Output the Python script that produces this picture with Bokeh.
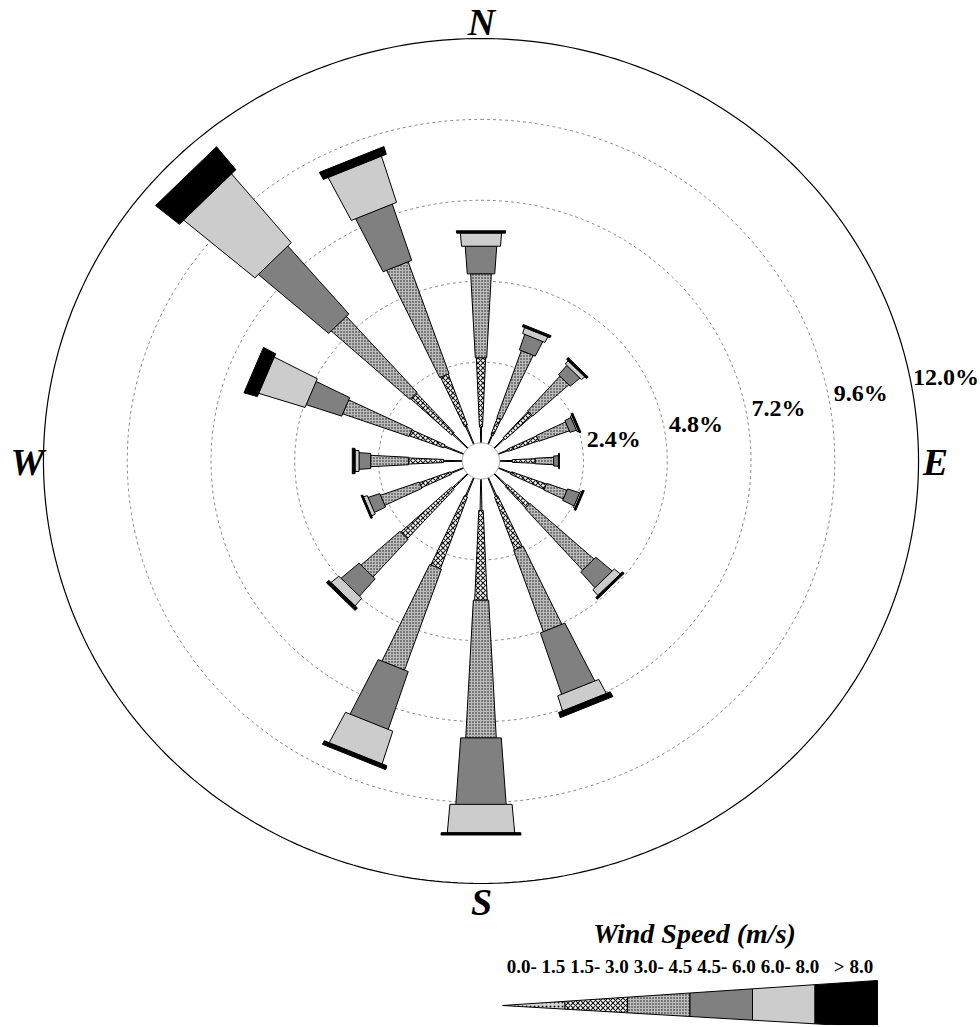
import numpy as np
from bokeh.plotting import figure
from bokeh.models import Range1d, ColumnDataSource
from bokeh.embed import file_html
from bokeh.resources import INLINE
from bokeh.core.properties import value

# ---------------- data ----------------
directions = ["N", "NNE", "NE", "ENE", "E", "ESE", "SE", "SSE",
              "S", "SSW", "SW", "WSW", "W", "WNW", "NW", "NNW"]
dir_angles = [0.0, 22.5, 45.0, 67.5, 90.0, 112.5, 135.0, 157.5,
              180.0, 202.5, 225.0, 247.5, 270.0, 292.5, 315.0, 337.5]
speed_classes = ["0.0- 1.5", "1.5- 3.0", "3.0- 4.5", "4.5- 6.0", "6.0- 8.0", "> 8.0"]
# frequency (%) of each speed class per direction
freq_0_15 = [0.47, 0.30, 0.40, 0.30, 0.36, 0.40, 0.50, 0.60, 0.93, 0.60, 0.60, 0.40, 0.54, 0.60, 0.60, 0.60]
freq_15_30 = [2.06, 0.53, 1.06, 0.92, 0.66, 1.06, 0.85, 1.67, 2.67, 2.27, 1.99, 0.94, 1.00, 1.05, 1.60, 1.61]
freq_30_45 = [2.50, 2.11, 1.39, 0.93, 0.53, 0.62, 2.47, 2.57, 4.10, 3.18, 1.50, 1.18, 1.09, 2.02, 3.04, 3.53]
freq_45_60 = [0.83, 0.49, 0.37, 0.20, 0.14, 0.37, 0.63, 1.93, 1.99, 1.82, 0.69, 0.36, 0.34, 1.08, 2.68, 1.77]
freq_60_80 = [0.40, 0.19, 0.13, 0.05, 0.01, 0.05, 0.23, 0.48, 0.86, 1.03, 0.30, 0.12, 0.12, 1.40, 2.68, 1.45]
freq_80_up = [0.07, 0.07, 0.07, 0.05, 0.02, 0.05, 0.07, 0.16, 0.07, 0.12, 0.10, 0.05, 0.08, 0.40, 0.88, 0.24]
ring_ticks = [2.4, 4.8, 7.2, 9.6, 12.0]
cardinal_labels = ["N", "E", "S", "W"]

class_freqs = [freq_0_15, freq_15_30, freq_30_45, freq_45_60, freq_60_80, freq_80_up]

# ---------------- styling ----------------
half_width_deg = [1.0, 2.5, 3.05, 4.05, 5.0, 5.9]
fills = ["#d8d8d8", "#ffffff", "#bcbcbc", "#808080", "#cccccc", "#000000"]
hatches = ["dot", "diagonal_cross", "dot", " ", " ", " "]
hatch_scales = [4, 5, 3, 1, 1, 1]
hatch_weights = [1, 1.2, 1, 1, 1, 1]
r0 = 0.537  # calm circle radius (data units)

CX, CY = 480.5, 460.5
SX, SY = 34.9, 33.7
W, H = 978, 1025
BASE_SHIFT = 0.3  # em; compensates renderer baseline placement


def px2x(X):
    return (X - CX) / SX


def px2y(Y):
    return (CY - Y) / SY


def base_y(Y, fs):
    return px2y(Y - BASE_SHIFT * fs)


p = figure(width=W, height=H, output_backend="svg", toolbar_location=None,
           x_range=Range1d(px2x(0), px2x(W)), y_range=Range1d(px2y(H), px2y(0)),
           x_axis_type=None, y_axis_type=None, min_border=0)
p.outline_line_color = None
p.grid.visible = False
p.background_fill_color = "white"

t = np.linspace(0, 2 * np.pi, 361)

# dashed rings
for pct in ring_ticks[:-1]:
    R = r0 + pct
    p.line(R * np.sin(t), R * np.cos(t), line_color="#8c8c8c", line_dash="3 3", line_width=1)

# petals
cum = np.zeros(len(directions))
for ci, fr in enumerate(class_freqs):
    xs, ys = [], []
    hw = np.radians(half_width_deg[ci])
    for di, ang in enumerate(dir_angles):
        th = np.radians(ang)
        rin = r0 + cum[di]
        rout = r0 + cum[di] + fr[di]
        angs = [th - hw, th - hw, th + hw, th + hw]
        rads = [rin, rout, rout, rin]
        xs.append([r * np.sin(a) for r, a in zip(rads, angs)])
        ys.append([r * np.cos(a) for r, a in zip(rads, angs)])
    cum = cum + np.array(fr)
    src = ColumnDataSource(dict(xs=xs, ys=ys))
    kw = {}
    if hatches[ci].strip():
        kw = dict(hatch_pattern=hatches[ci], hatch_color="black", hatch_scale=hatch_scales[ci],
                  hatch_weight=hatch_weights[ci], hatch_alpha=0.9)
    p.patches("xs", "ys", source=src, fill_color=fills[ci], line_color="black", line_width=1, **kw)

# calm circle
p.patch(r0 * np.sin(t), r0 * np.cos(t), fill_color="white", line_color="#9a9a9a", line_width=1)

# outer circle
Rmax = r0 + ring_ticks[-1]
p.line(Rmax * np.sin(t), Rmax * np.cos(t), line_color="black", line_width=1.2)

# ring labels
FS_PCT = 24
lab_ang = np.radians(10.6)
lx, ly, lt = [], [], []
for pct in ring_ticks:
    R = (r0 + pct) * SX
    lx.append(px2x(CX + R * np.cos(lab_ang) + (5 if pct < 12 else 2)))
    ly.append(base_y(CY - R * np.sin(lab_ang) + 4, FS_PCT))
    lt.append(f"{pct:.1f}%")
p.text(lx, ly, text=lt, text_font=value("Liberation Serif"), text_font_style="bold",
       text_font_size=value(f"{FS_PCT}px"), text_baseline="alphabetic", text_align="left", text_color="black")

# cardinal labels
FS_CARD = 38
card_x = [px2x(481), px2x(935), px2x(481), px2x(27)]
card_y = [base_y(33, FS_CARD), base_y(473, FS_CARD), base_y(913, FS_CARD), base_y(473, FS_CARD)]
p.text(card_x, card_y, text=cardinal_labels, text_font=value("Liberation Serif"),
       text_font_style="bold italic", text_font_size=value(f"{FS_CARD}px"), text_align="center",
       text_baseline="alphabetic", text_color="black")

# legend
FS_TITLE = 28
p.text([px2x(694)], [base_y(941, FS_TITLE)], text=["Wind Speed (m/s)"], text_font=value("Liberation Serif"),
       text_font_style="bold italic", text_font_size=value(f"{FS_TITLE}px"), text_align="center",
       text_baseline="alphabetic", text_color="black")
x0, x1 = 502.0, 877.0
tipY = 1005.0
def top(X):
    return tipY - (X - x0) * 25.0 / 375.0
def bot(X):
    return tipY + (X - x0) * 22.0 / 375.0
seg = (x1 - x0) / len(speed_classes)
for ci in range(len(speed_classes)):
    a = x0 + ci * seg
    b = a + seg
    kw = {}
    if hatches[ci].strip():
        kw = dict(hatch_pattern=hatches[ci], hatch_color="black", hatch_scale=hatch_scales[ci],
                  hatch_weight=hatch_weights[ci], hatch_alpha=0.9)
    p.patch([px2x(a), px2x(b), px2x(b), px2x(a)], [px2y(top(a)), px2y(top(b)), px2y(bot(b)), px2y(bot(a))],
            fill_color=fills[ci], line_color="black", line_width=1, **kw)
FS_CLS = 19
p.text([px2x(535.5 + 63.5 * i) for i in range(len(speed_classes))], [base_y(972, FS_CLS)] * len(speed_classes),
       text=speed_classes, text_font=value("Liberation Serif"), text_font_style="bold",
       text_font_size=value(f"{FS_CLS}px"), text_align="center", text_baseline="alphabetic", text_color="black")

open("out.html", "w").write(file_html(p, INLINE))
